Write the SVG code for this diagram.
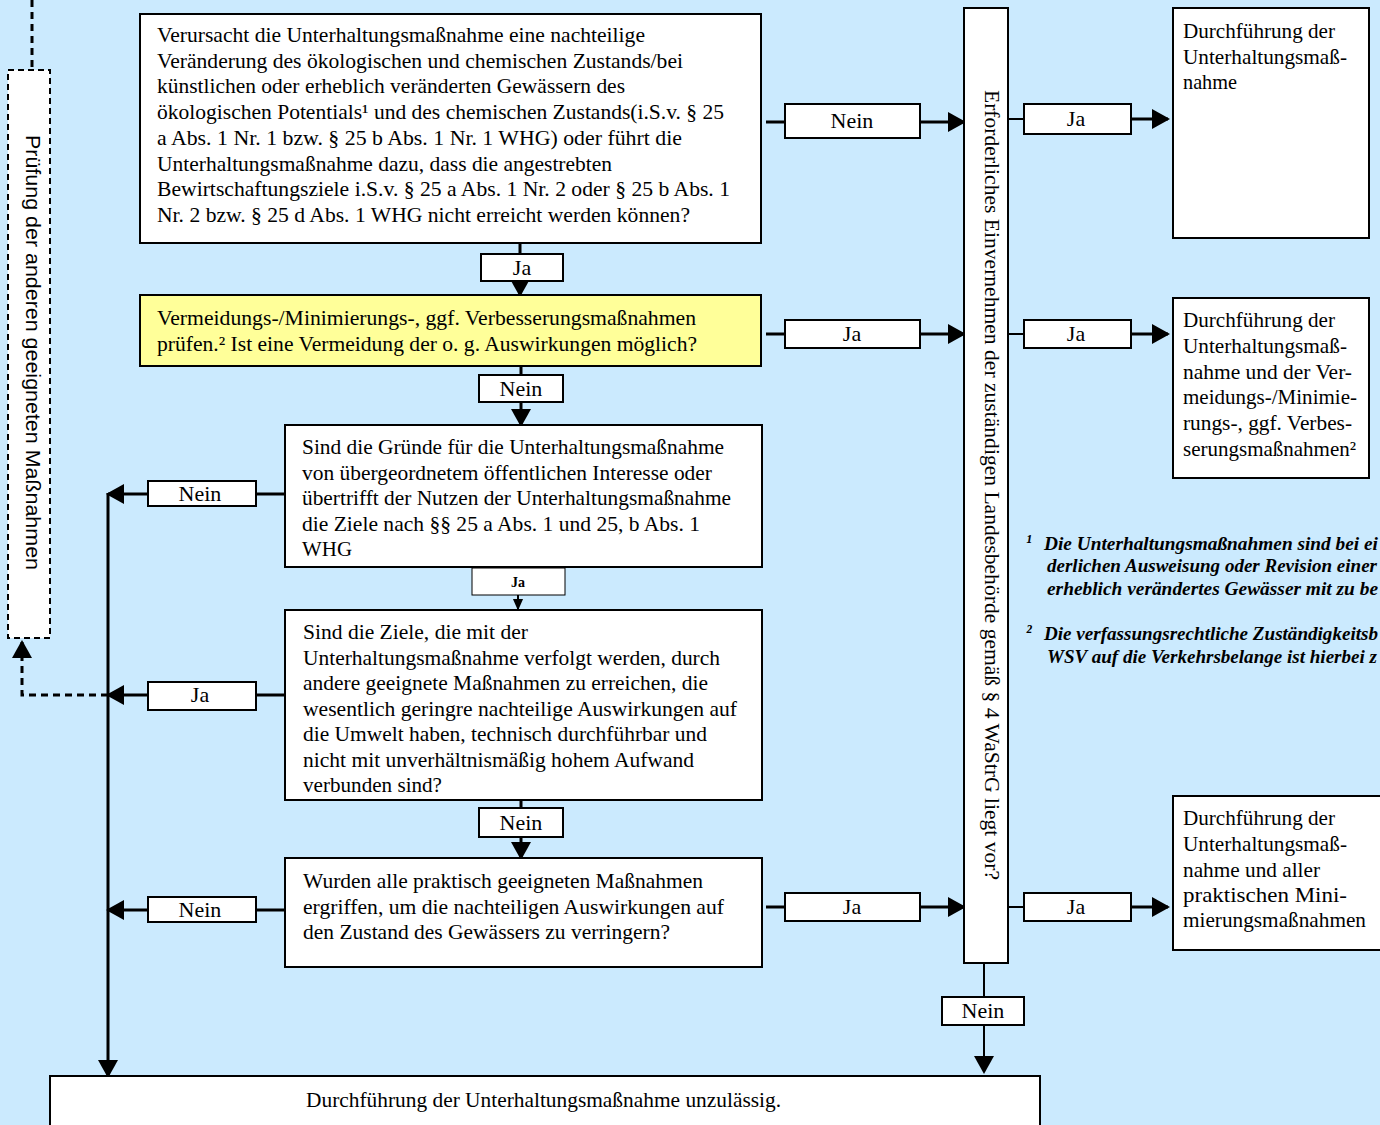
<svg xmlns="http://www.w3.org/2000/svg" width="1380" height="1125" viewBox="0 0 1380 1125">
<defs>
<style>
.box{fill:#fff;stroke:#000;stroke-width:2}
.yel{fill:#ffff99;stroke:#000;stroke-width:2}
.lbl{fill:#fff;stroke:#000;stroke-width:2}
.t{font-family:"Liberation Serif","Times New Roman",serif;font-size:22px;fill:#000}
.lt{font-family:"Liberation Serif","Times New Roman",serif;font-size:22px;fill:#000;text-anchor:middle}
.fn{font-family:"Liberation Serif","Times New Roman",serif;font-size:19px;font-weight:bold;font-style:italic;fill:#000}
.c{fill:none;stroke:#000;stroke-width:3}
.cs{fill:none;stroke:#000;stroke-width:2}
.d{fill:none;stroke:#000;stroke-width:3;stroke-dasharray:7,5}
</style>
<marker id="ah" markerUnits="userSpaceOnUse" markerWidth="18" markerHeight="20" viewBox="0 0 18 20" refX="16" refY="10" orient="auto">
<path d="M0,0 L18,10 L0,20 z" fill="#000"/>
</marker>
<marker id="ahs" markerUnits="userSpaceOnUse" markerWidth="12" markerHeight="12" viewBox="0 0 16 14" refX="14" refY="7" orient="auto">
<path d="M0,0 L16,7 L0,14 z" fill="#000"/>
</marker>
</defs>
<rect x="0" y="0" width="1380" height="1125" fill="#cbeafe"/>

<g id="connectors">
<path class="d" d="M32,0 V70"/>
<path class="d" d="M108,695 H22 V642" marker-end="url(#ah)"/>
<path class="c" d="M766,122 H785"/>
<path class="c" d="M920,122 H964" marker-end="url(#ah)"/>
<path class="c" d="M520,243 V254"/>
<path class="c" d="M520,281 V295" marker-end="url(#ah)"/>
<path class="c" d="M766,334 H785"/>
<path class="c" d="M920,334 H964" marker-end="url(#ah)"/>
<path class="c" d="M521,366 V375"/>
<path class="c" d="M521,402 V425" marker-end="url(#ah)"/>
<path class="c" d="M285,494 H256"/>
<path class="c" d="M148,494 H108" marker-end="url(#ah)"/>
<path class="cs" d="M518,595 V609" marker-end="url(#ahs)"/>
<path class="c" d="M285,695 H256"/>
<path class="c" d="M148,695 H108" marker-end="url(#ah)"/>
<path class="c" d="M521,800 V808"/>
<path class="c" d="M521,837 V858" marker-end="url(#ah)"/>
<path class="c" d="M285,910 H256"/>
<path class="c" d="M148,910 H108" marker-end="url(#ah)"/>
<path class="c" d="M766,907 H785"/>
<path class="c" d="M920,907 H964" marker-end="url(#ah)"/>
<path class="c" d="M108,493 V1076" marker-end="url(#ah)"/>
<path class="cs" d="M1008,119 H1024"/>
<path class="c" d="M1131,119 H1168" marker-end="url(#ah)"/>
<path class="cs" d="M1008,334 H1024"/>
<path class="c" d="M1131,334 H1168" marker-end="url(#ah)"/>
<path class="cs" d="M1008,907 H1024"/>
<path class="c" d="M1131,907 H1168" marker-end="url(#ah)"/>
<path class="cs" d="M984,963 V997"/>
<path class="cs" d="M984,1025 V1072" marker-end="url(#ah)"/>
</g>

<g id="labels">
<rect class="lbl" x="785" y="104" width="135" height="34"/><text class="lt" x="852" y="128">Nein</text>
<rect class="lbl" x="481" y="254" width="82" height="27"/><text class="lt" x="522" y="275">Ja</text>
<rect class="lbl" x="785" y="320" width="135" height="28"/><text class="lt" x="852" y="341">Ja</text>
<rect class="lbl" x="479" y="375" width="84" height="27"/><text class="lt" x="521" y="396">Nein</text>
<rect class="lbl" x="148" y="481" width="108" height="25"/><text class="lt" x="200" y="501">Nein</text>
<rect x="472" y="568" width="93" height="27" fill="#fff" stroke="#000" stroke-width="1"/><text x="518" y="587" font-family="Liberation Serif, serif" font-size="14" font-weight="bold" text-anchor="middle">Ja</text>
<rect class="lbl" x="148" y="682" width="108" height="28"/><text class="lt" x="200" y="702">Ja</text>
<rect class="lbl" x="479" y="808" width="84" height="29"/><text class="lt" x="521" y="830">Nein</text>
<rect class="lbl" x="148" y="897" width="108" height="25"/><text class="lt" x="200" y="917">Nein</text>
<rect class="lbl" x="785" y="893" width="135" height="28"/><text class="lt" x="852" y="914">Ja</text>
<rect class="lbl" x="1024" y="104" width="107" height="30"/><text class="lt" x="1076" y="126">Ja</text>
<rect class="lbl" x="1024" y="320" width="107" height="28"/><text class="lt" x="1076" y="341">Ja</text>
<rect class="lbl" x="1024" y="893" width="107" height="28"/><text class="lt" x="1076" y="914">Ja</text>
<rect class="lbl" x="942" y="997" width="82" height="28"/><text class="lt" x="983" y="1018">Nein</text>
</g>

<g id="pruefung">
<rect x="8" y="70" width="42" height="568" fill="#fff" stroke="#000" stroke-width="2" stroke-dasharray="6,4"/>
<text transform="translate(26,135) rotate(90)" font-family="Liberation Sans, Arial, sans-serif" font-size="21" textLength="435" lengthAdjust="spacingAndGlyphs">Prüfung der anderen geeigneten Maßnahmen</text>
</g>

<g id="frage1">
<rect class="box" x="140" y="14" width="621" height="229"/>
<text class="t" x="157" y="42" textLength="488" lengthAdjust="spacingAndGlyphs">Verursacht die Unterhaltungsmaßnahme eine nachteilige</text>
<text class="t" x="157" y="67.7" textLength="526" lengthAdjust="spacingAndGlyphs">Veränderung des ökologischen und chemischen Zustands/bei</text>
<text class="t" x="157" y="93.4" textLength="468" lengthAdjust="spacingAndGlyphs">künstlichen oder erheblich veränderten Gewässern des</text>
<text class="t" x="157" y="119.1" textLength="567" lengthAdjust="spacingAndGlyphs">ökologischen Potentials¹ und des chemischen Zustands(i.S.v. § 25</text>
<text class="t" x="157" y="144.8" textLength="525" lengthAdjust="spacingAndGlyphs">a Abs. 1 Nr. 1 bzw. § 25 b Abs. 1 Nr. 1 WHG) oder führt die</text>
<text class="t" x="157" y="170.5" textLength="455" lengthAdjust="spacingAndGlyphs">Unterhaltungsmaßnahme dazu, dass die angestrebten</text>
<text class="t" x="157" y="196.2" textLength="573" lengthAdjust="spacingAndGlyphs">Bewirtschaftungsziele i.S.v. § 25 a Abs. 1 Nr. 2 oder § 25 b Abs. 1</text>
<text class="t" x="157" y="221.9" textLength="533" lengthAdjust="spacingAndGlyphs">Nr. 2 bzw. § 25 d Abs. 1 WHG nicht erreicht werden können?</text>
</g>

<g id="vermeidung">
<rect class="yel" x="140" y="295" width="621" height="71"/>
<text class="t" x="157" y="325" textLength="539" lengthAdjust="spacingAndGlyphs">Vermeidungs-/Minimierungs-, ggf. Verbesserungsmaßnahmen</text>
<text class="t" x="157" y="350.5" textLength="540" lengthAdjust="spacingAndGlyphs">prüfen.² Ist eine Vermeidung der o. g. Auswirkungen möglich?</text>
</g>

<g id="frage3">
<rect class="box" x="285" y="425" width="477" height="142"/>
<text class="t" x="302" y="454" textLength="422" lengthAdjust="spacingAndGlyphs">Sind die Gründe für die Unterhaltungsmaßnahme</text>
<text class="t" x="302" y="479.5" textLength="410" lengthAdjust="spacingAndGlyphs">von übergeordnetem öffentlichen Interesse oder</text>
<text class="t" x="302" y="505" textLength="429" lengthAdjust="spacingAndGlyphs">übertrifft der Nutzen der Unterhaltungsmaßnahme</text>
<text class="t" x="302" y="530.5" textLength="398" lengthAdjust="spacingAndGlyphs">die Ziele nach §§ 25 a Abs. 1 und 25, b Abs. 1</text>
<text class="t" x="302" y="556" textLength="50" lengthAdjust="spacingAndGlyphs">WHG</text>
</g>

<g id="frage4">
<rect class="box" x="285" y="610" width="477" height="190"/>
<text class="t" x="303" y="639" textLength="225" lengthAdjust="spacingAndGlyphs">Sind die Ziele, die mit der</text>
<text class="t" x="303" y="664.5" textLength="417" lengthAdjust="spacingAndGlyphs">Unterhaltungsmaßnahme verfolgt werden, durch</text>
<text class="t" x="303" y="690" textLength="405" lengthAdjust="spacingAndGlyphs">andere geeignete Maßnahmen zu erreichen, die</text>
<text class="t" x="303" y="715.5" textLength="434" lengthAdjust="spacingAndGlyphs">wesentlich geringre nachteilige Auswirkungen auf</text>
<text class="t" x="303" y="741" textLength="404" lengthAdjust="spacingAndGlyphs">die Umwelt haben, technisch durchführbar und</text>
<text class="t" x="303" y="766.5" textLength="391" lengthAdjust="spacingAndGlyphs">nicht mit unverhältnismäßig hohem Aufwand</text>
<text class="t" x="303" y="792" textLength="139" lengthAdjust="spacingAndGlyphs">verbunden sind?</text>
</g>

<g id="frage5">
<rect class="box" x="285" y="858" width="477" height="109"/>
<text class="t" x="303" y="888" textLength="400" lengthAdjust="spacingAndGlyphs">Wurden alle praktisch geeigneten Maßnahmen</text>
<text class="t" x="303" y="913.5" textLength="421" lengthAdjust="spacingAndGlyphs">ergriffen, um die nachteiligen Auswirkungen auf</text>
<text class="t" x="303" y="939" textLength="367" lengthAdjust="spacingAndGlyphs">den Zustand des Gewässers zu verringern?</text>
</g>

<g id="einvernehmen">
<rect class="box" x="964" y="8" width="44" height="955"/>
<text class="t" transform="translate(985,90) rotate(90)" font-size="27" textLength="790" lengthAdjust="spacingAndGlyphs">Erforderliches Einvernehmen der zuständigen Landesbehörde gemäß § 4 WaStrG liegt vor?</text>
</g>

<g id="ergebnis1">
<rect class="box" x="1173" y="8" width="196" height="230"/>
<text class="t" x="1183" y="38" textLength="152" lengthAdjust="spacingAndGlyphs">Durchführung der</text>
<text class="t" x="1183" y="63.5" textLength="164" lengthAdjust="spacingAndGlyphs">Unterhaltungsmaß-</text>
<text class="t" x="1183" y="89" textLength="54" lengthAdjust="spacingAndGlyphs">nahme</text>
</g>

<g id="ergebnis2">
<rect class="box" x="1173" y="298" width="196" height="180"/>
<text class="t" x="1183" y="327" textLength="152" lengthAdjust="spacingAndGlyphs">Durchführung der</text>
<text class="t" x="1183" y="353" textLength="164" lengthAdjust="spacingAndGlyphs">Unterhaltungsmaß-</text>
<text class="t" x="1183" y="379" textLength="169" lengthAdjust="spacingAndGlyphs">nahme und der Ver-</text>
<text class="t" x="1183" y="404" textLength="174" lengthAdjust="spacingAndGlyphs">meidungs-/Minimie-</text>
<text class="t" x="1183" y="430" textLength="169" lengthAdjust="spacingAndGlyphs">rungs-, ggf. Verbes-</text>
<text class="t" x="1183" y="456" textLength="173" lengthAdjust="spacingAndGlyphs">serungsmaßnahmen²</text>
</g>

<g id="ergebnis3">
<rect class="box" x="1173" y="796" width="215" height="154"/>
<text class="t" x="1183" y="825" textLength="152" lengthAdjust="spacingAndGlyphs">Durchführung der</text>
<text class="t" x="1183" y="851" textLength="164" lengthAdjust="spacingAndGlyphs">Unterhaltungsmaß-</text>
<text class="t" x="1183" y="877" textLength="137" lengthAdjust="spacingAndGlyphs">nahme und aller</text>
<text class="t" x="1183" y="902" textLength="164" lengthAdjust="spacingAndGlyphs">praktischen Mini-</text>
<text class="t" x="1183" y="927" textLength="183" lengthAdjust="spacingAndGlyphs">mierungsmaßnahmen</text>
</g>

<g id="unzulaessig">
<rect class="box" x="50" y="1076" width="990" height="60"/>
<text class="t" x="306" y="1107" textLength="475" lengthAdjust="spacingAndGlyphs">Durchführung der Unterhaltungsmaßnahme unzulässig.</text>
</g>

<g id="fussnoten">
<text class="fn" x="1026" y="548">¹</text>
<text class="fn" x="1044" y="550" textLength="334" lengthAdjust="spacingAndGlyphs">Die Unterhaltungsmaßnahmen sind bei ei</text>
<text class="fn" x="1047" y="572" textLength="330" lengthAdjust="spacingAndGlyphs">derlichen Ausweisung oder Revision einer</text>
<text class="fn" x="1047" y="595" textLength="331" lengthAdjust="spacingAndGlyphs">erheblich verändertes Gewässer mit zu be</text>
<text class="fn" x="1026" y="638">²</text>
<text class="fn" x="1044" y="640" textLength="334" lengthAdjust="spacingAndGlyphs">Die verfassungsrechtliche Zuständigkeitsb</text>
<text class="fn" x="1047" y="663" textLength="330" lengthAdjust="spacingAndGlyphs">WSV auf die Verkehrsbelange ist hierbei z</text>
</g>
</svg>
